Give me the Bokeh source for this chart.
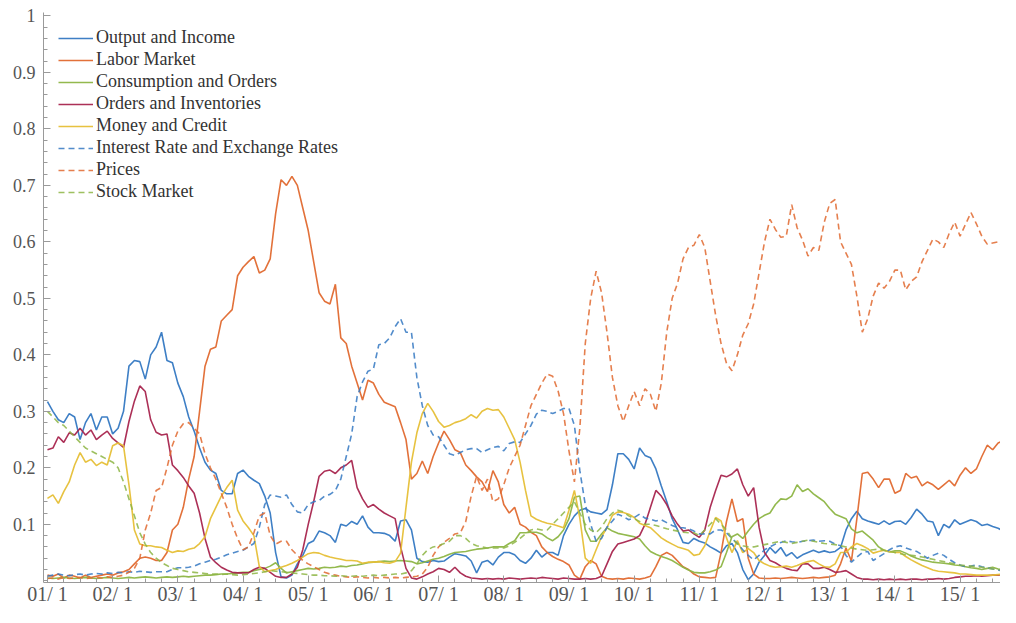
from bokeh.plotting import figure
from bokeh.models import FixedTicker, Legend, LegendItem, Range1d
from bokeh.embed import file_html
from bokeh.resources import INLINE

# ---------------- data (monthly, Jan 2001 .. Dec 2015) ----------------
n_months = 180
months = list(range(n_months))

year_ticks = list(range(15))
year_labels = ["01/ 1", "02/ 1", "03/ 1", "04/ 1", "05/ 1", "06/ 1", "07/ 1", "08/ 1",
               "09/ 1", "10/ 1", "11/ 1", "12/ 1", "13/ 1", "14/ 1", "15/ 1"]
y_ticks = [0.1, 0.2, 0.3, 0.4, 0.5, 0.6, 0.7, 0.8, 0.9, 1.0]
y_labels = ["0.1", "0.2", "0.3", "0.4", "0.5", "0.6", "0.7", "0.8", "0.9", "1"]

output_income = [
    0.317, 0.30, 0.285, 0.28, 0.296, 0.29, 0.25, 0.28, 0.296, 0.267,
    0.29, 0.29, 0.26, 0.27, 0.30, 0.38, 0.39, 0.388, 0.357, 0.40,
    0.414, 0.44, 0.39, 0.386, 0.35, 0.326, 0.29, 0.265, 0.235, 0.21,
    0.196, 0.19, 0.16, 0.154, 0.154, 0.19, 0.196, 0.185, 0.178, 0.172,
    0.15, 0.12, 0.05, 0.007, 0.005, 0.01, 0.03, 0.045, 0.066, 0.071,
    0.088, 0.085, 0.08, 0.068, 0.10, 0.097, 0.105, 0.10, 0.115, 0.095,
    0.085, 0.085, 0.084, 0.08, 0.07, 0.106, 0.108, 0.09, 0.04, 0.034,
    0.033, 0.036, 0.034, 0.035, 0.042, 0.048, 0.046, 0.044, 0.035, 0.014,
    0.033, 0.036, 0.028, 0.042, 0.05, 0.05, 0.046, 0.036, 0.031, 0.04,
    0.054, 0.042, 0.05, 0.05, 0.045, 0.08, 0.10, 0.115, 0.125, 0.128,
    0.122, 0.12, 0.118, 0.126, 0.17, 0.225, 0.225, 0.215, 0.198, 0.235,
    0.222, 0.218, 0.198, 0.168, 0.14, 0.11, 0.09, 0.068, 0.066, 0.075,
    0.07, 0.067, 0.06, 0.055, 0.049, 0.062, 0.066, 0.05, 0.02, 0.002,
    0.012, 0.033, 0.045, 0.059, 0.049, 0.059, 0.044, 0.05, 0.04, 0.046,
    0.05, 0.054, 0.05, 0.053, 0.05, 0.052, 0.059, 0.09, 0.11, 0.123,
    0.11, 0.106, 0.103, 0.10, 0.106, 0.10, 0.105, 0.106, 0.10, 0.112,
    0.127, 0.118, 0.106, 0.104, 0.08, 0.10, 0.094, 0.108, 0.10, 0.104,
    0.108, 0.105, 0.098, 0.10, 0.096, 0.093, 0.088, 0.08, 0.083, 0.08,
]

labor_market = [
    0.01, 0.008, 0.012, 0.005, 0.01, 0.008, 0.005, 0.01, 0.006, 0.008,
    0.01, 0.012, 0.01, 0.014, 0.016, 0.02, 0.03, 0.04, 0.042, 0.04,
    0.036, 0.036, 0.05, 0.09, 0.10, 0.13, 0.18, 0.22, 0.30, 0.38,
    0.41, 0.414, 0.46, 0.47, 0.48, 0.54, 0.555, 0.565, 0.574, 0.545,
    0.55, 0.57, 0.65, 0.71, 0.70, 0.716, 0.70, 0.66, 0.62, 0.565,
    0.51, 0.495, 0.49, 0.525, 0.43, 0.42, 0.38, 0.35, 0.32, 0.355,
    0.35, 0.33, 0.316, 0.312, 0.308, 0.28, 0.25, 0.18, 0.19, 0.212,
    0.19, 0.22, 0.244, 0.265, 0.25, 0.232, 0.227, 0.205, 0.195, 0.184,
    0.175, 0.158, 0.195, 0.175, 0.135, 0.12, 0.13, 0.10, 0.095, 0.086,
    0.08, 0.06, 0.05, 0.043, 0.038, 0.034, 0.028, 0.01, 0.003, 0.025,
    0.036, 0.03, 0.008, 0.004, 0.003, 0.004, 0.003, 0.005, 0.004, 0.003,
    0.005, 0.008, 0.025, 0.045, 0.05, 0.045, 0.035, 0.025, 0.02, 0.012,
    0.007, 0.006, 0.005, 0.006, 0.05, 0.105, 0.145, 0.105, 0.11, 0.04,
    0.012, 0.005, 0.004, 0.004, 0.005, 0.004, 0.005, 0.006, 0.005, 0.004,
    0.005, 0.006, 0.005, 0.006, 0.007, 0.01, 0.03, 0.058, 0.035, 0.11,
    0.19, 0.192, 0.18, 0.165, 0.18, 0.18, 0.155, 0.16, 0.19, 0.182,
    0.185, 0.168, 0.175, 0.17, 0.162, 0.17, 0.178, 0.168, 0.187, 0.20,
    0.19, 0.198, 0.22, 0.24, 0.232, 0.244, 0.248, 0.255, 0.29, 0.32,
]

consumption_orders = [
    0.005, 0.004, 0.005, 0.006, 0.005, 0.004, 0.005, 0.006, 0.005, 0.004,
    0.005, 0.006, 0.005, 0.004, 0.005, 0.006, 0.005, 0.006, 0.007, 0.006,
    0.005, 0.006, 0.007, 0.006, 0.007, 0.008, 0.007, 0.008, 0.009, 0.01,
    0.01, 0.011, 0.012, 0.012, 0.013, 0.014, 0.015, 0.015, 0.018, 0.02,
    0.022, 0.026, 0.032, 0.022, 0.014, 0.016, 0.018, 0.02, 0.022, 0.021,
    0.022, 0.024, 0.023, 0.024, 0.026, 0.025, 0.027, 0.028, 0.03, 0.032,
    0.033, 0.034, 0.035, 0.034, 0.035, 0.036, 0.035, 0.034, 0.03, 0.032,
    0.035, 0.038, 0.04, 0.043, 0.047, 0.05, 0.051, 0.052, 0.054, 0.056,
    0.057, 0.058, 0.06, 0.06, 0.06, 0.066, 0.071, 0.085, 0.085, 0.086,
    0.086, 0.083, 0.076, 0.071, 0.078, 0.09, 0.11, 0.148, 0.15, 0.09,
    0.07, 0.07, 0.083, 0.094, 0.088, 0.084, 0.082, 0.08, 0.078, 0.074,
    0.062, 0.052, 0.047, 0.043, 0.04, 0.036, 0.03, 0.024, 0.019, 0.015,
    0.014, 0.014, 0.016, 0.019, 0.025, 0.05, 0.078, 0.083, 0.075, 0.088,
    0.10, 0.11, 0.116, 0.12, 0.135, 0.145, 0.144, 0.15, 0.17, 0.158,
    0.163, 0.154, 0.147, 0.14, 0.128, 0.118, 0.114, 0.11, 0.092, 0.085,
    0.088, 0.08, 0.072, 0.06, 0.054, 0.051, 0.053, 0.053, 0.049, 0.044,
    0.04, 0.037, 0.035, 0.033, 0.032, 0.031, 0.03, 0.028, 0.027, 0.025,
    0.023, 0.022, 0.02, 0.022, 0.024, 0.021, 0.019, 0.022, 0.024, 0.023,
]

orders_inventories = [
    0.232, 0.235, 0.255, 0.245, 0.262, 0.258, 0.27, 0.258, 0.267, 0.25,
    0.258, 0.265, 0.252, 0.244, 0.236, 0.282, 0.318, 0.345, 0.335, 0.285,
    0.263, 0.258, 0.26, 0.205, 0.195, 0.183, 0.168, 0.155, 0.12, 0.075,
    0.042, 0.032, 0.024, 0.019, 0.015, 0.014, 0.014, 0.014, 0.02, 0.024,
    0.022, 0.015, 0.008, 0.006, 0.006, 0.012, 0.024, 0.055, 0.10, 0.14,
    0.185, 0.194, 0.196, 0.19, 0.20, 0.205, 0.213, 0.165, 0.145, 0.13,
    0.135, 0.127, 0.12, 0.115, 0.11, 0.06, 0.022, 0.005, 0.003, 0.007,
    0.012, 0.016, 0.022, 0.02, 0.015, 0.024, 0.014, 0.008, 0.005, 0.004,
    0.003, 0.004, 0.003, 0.004, 0.003, 0.005, 0.004, 0.003, 0.004, 0.005,
    0.004, 0.006, 0.005, 0.004, 0.003, 0.005, 0.004, 0.003, 0.003, 0.004,
    0.003, 0.004, 0.008, 0.03, 0.052, 0.065, 0.068, 0.071, 0.074, 0.08,
    0.10, 0.13, 0.16, 0.15, 0.135, 0.115, 0.10, 0.088, 0.09, 0.083,
    0.077, 0.09, 0.13, 0.16, 0.187, 0.184, 0.189, 0.198, 0.17, 0.15,
    0.165, 0.095, 0.05, 0.036, 0.032, 0.026, 0.022, 0.019, 0.018, 0.03,
    0.03, 0.022, 0.022, 0.024, 0.02, 0.015, 0.016, 0.018, 0.012, 0.006,
    0.003, 0.003, 0.002, 0.003, 0.002, 0.003, 0.002, 0.003, 0.002, 0.003,
    0.003, 0.002, 0.003, 0.003, 0.004, 0.003, 0.004, 0.006, 0.007, 0.008,
    0.008, 0.009, 0.008, 0.009, 0.01, 0.01, 0.011, 0.01, 0.012, 0.013,
]

money_credit = [
    0.146, 0.152, 0.137, 0.158, 0.175, 0.205, 0.227, 0.21, 0.215, 0.204,
    0.21, 0.205, 0.239, 0.244, 0.239, 0.17, 0.09, 0.065, 0.062, 0.062,
    0.06, 0.059, 0.054, 0.05, 0.053, 0.052, 0.056, 0.058, 0.066, 0.078,
    0.11, 0.13, 0.15, 0.165, 0.178, 0.125, 0.106, 0.094, 0.08, 0.025,
    0.016, 0.018, 0.02, 0.024, 0.027, 0.031, 0.036, 0.042, 0.048, 0.05,
    0.049, 0.045, 0.042, 0.04, 0.038, 0.036, 0.036, 0.035, 0.031, 0.033,
    0.033, 0.034, 0.032, 0.031, 0.034, 0.049, 0.13, 0.21, 0.262, 0.296,
    0.314, 0.30, 0.282, 0.272, 0.275, 0.28, 0.283, 0.287, 0.294, 0.288,
    0.30, 0.305, 0.302, 0.303, 0.29, 0.27, 0.25, 0.21, 0.16, 0.115,
    0.109, 0.105, 0.102, 0.10, 0.097, 0.094, 0.125, 0.16, 0.111, 0.04,
    0.031, 0.055, 0.078, 0.094, 0.116, 0.122, 0.121, 0.118, 0.112, 0.102,
    0.098, 0.094, 0.085, 0.076, 0.07, 0.065, 0.06, 0.057, 0.054, 0.045,
    0.047, 0.062, 0.088, 0.112, 0.106, 0.076, 0.05, 0.071, 0.05, 0.057,
    0.05, 0.036, 0.03, 0.026, 0.024, 0.025, 0.026, 0.024, 0.027, 0.031,
    0.034, 0.036, 0.03, 0.025, 0.024, 0.03, 0.05, 0.05, 0.06, 0.066,
    0.062, 0.057, 0.049, 0.052, 0.054, 0.052, 0.05, 0.05, 0.043, 0.037,
    0.032, 0.027, 0.023, 0.019, 0.017, 0.016, 0.015, 0.014, 0.012, 0.012,
    0.011, 0.01, 0.01, 0.01, 0.01, 0.011, 0.012, 0.013, 0.015, 0.018,
]

interest_exchange = [
    0.008, 0.01, 0.012, 0.01, 0.009, 0.011, 0.012, 0.01, 0.012, 0.013,
    0.012, 0.014, 0.013, 0.015, 0.014, 0.016, 0.015, 0.017, 0.016, 0.015,
    0.016, 0.016, 0.016, 0.02, 0.023, 0.023, 0.024, 0.026, 0.03, 0.033,
    0.036, 0.038, 0.042, 0.046, 0.049, 0.052, 0.054, 0.06, 0.066, 0.095,
    0.135, 0.152, 0.15, 0.148, 0.152, 0.135, 0.122, 0.12, 0.135, 0.14,
    0.142, 0.15, 0.153, 0.16, 0.18, 0.22, 0.26, 0.326, 0.352, 0.371,
    0.375, 0.418, 0.42, 0.43, 0.45, 0.464, 0.44, 0.44, 0.36, 0.31,
    0.275, 0.258, 0.255, 0.24, 0.225, 0.222, 0.227, 0.232, 0.234, 0.234,
    0.227, 0.232, 0.236, 0.238, 0.23, 0.243, 0.246, 0.245, 0.26, 0.275,
    0.295, 0.302, 0.30, 0.296, 0.30, 0.305, 0.305, 0.275, 0.195, 0.135,
    0.10, 0.07, 0.075, 0.095, 0.106, 0.118, 0.114, 0.108, 0.112, 0.118,
    0.111, 0.109, 0.106, 0.108, 0.103, 0.098, 0.094, 0.094, 0.092, 0.088,
    0.083, 0.083, 0.083, 0.09, 0.09, 0.085, 0.075, 0.066, 0.055, 0.045,
    0.037, 0.045, 0.055, 0.06, 0.065, 0.068, 0.071, 0.069, 0.068, 0.07,
    0.071, 0.072, 0.07, 0.071, 0.07, 0.065, 0.062, 0.045, 0.033, 0.042,
    0.05, 0.052, 0.036, 0.042, 0.048, 0.055, 0.06, 0.062, 0.058, 0.055,
    0.052, 0.046, 0.04, 0.045, 0.049, 0.045, 0.038, 0.032, 0.028, 0.025,
    0.026, 0.028, 0.025, 0.023, 0.021, 0.019, 0.017, 0.015, 0.014, 0.013,
]

prices = [
    0.004, 0.005, 0.003, 0.006, 0.004, 0.005, 0.006, 0.004, 0.005, 0.006,
    0.005, 0.007, 0.006, 0.008, 0.01, 0.015, 0.022, 0.04, 0.09, 0.12,
    0.16, 0.165, 0.2, 0.24, 0.265, 0.278, 0.28, 0.27, 0.26, 0.225,
    0.2, 0.18, 0.155, 0.13, 0.10, 0.075, 0.055, 0.06, 0.085, 0.115,
    0.12, 0.08, 0.065, 0.07, 0.07, 0.055, 0.045, 0.036, 0.03, 0.025,
    0.02, 0.015, 0.012, 0.01, 0.008, 0.007, 0.006, 0.007, 0.006, 0.005,
    0.006, 0.005, 0.006, 0.005, 0.006, 0.005, 0.006, 0.007, 0.008, 0.012,
    0.024, 0.045, 0.06, 0.068, 0.075, 0.083, 0.085, 0.105, 0.15, 0.185,
    0.16, 0.18, 0.14, 0.145, 0.17, 0.2, 0.22, 0.24, 0.275, 0.31,
    0.33, 0.35, 0.366, 0.362, 0.336, 0.296, 0.23, 0.175, 0.27, 0.42,
    0.5, 0.548, 0.51, 0.44, 0.36, 0.31, 0.282, 0.31, 0.335, 0.31,
    0.34, 0.33, 0.30, 0.35, 0.44, 0.50, 0.527, 0.57, 0.59, 0.594,
    0.613, 0.59, 0.53, 0.47, 0.42, 0.385, 0.372, 0.40, 0.435, 0.455,
    0.49, 0.545, 0.60, 0.64, 0.622, 0.608, 0.61, 0.666, 0.625, 0.603,
    0.575, 0.59, 0.585, 0.635, 0.668, 0.675, 0.60, 0.58, 0.56, 0.504,
    0.44, 0.464, 0.504, 0.527, 0.518, 0.53, 0.55, 0.55, 0.515, 0.53,
    0.538, 0.565, 0.585, 0.605, 0.60, 0.59, 0.615, 0.635, 0.61, 0.631,
    0.652, 0.632, 0.61, 0.596, 0.598, 0.60, 0.59, 0.575, 0.555, 0.54,
]

stock_market = [
    0.30, 0.29, 0.28, 0.275, 0.265, 0.255, 0.245, 0.235, 0.23, 0.225,
    0.22, 0.215, 0.21, 0.2, 0.175, 0.145, 0.115, 0.085, 0.065, 0.05,
    0.04, 0.032, 0.027, 0.022, 0.02, 0.018, 0.016, 0.015, 0.014, 0.013,
    0.012, 0.012, 0.011, 0.012, 0.011, 0.01, 0.011, 0.012, 0.013, 0.014,
    0.016, 0.018, 0.017, 0.016, 0.015, 0.014, 0.013, 0.012, 0.011, 0.01,
    0.01, 0.009, 0.009, 0.008, 0.009, 0.008, 0.008, 0.009, 0.008, 0.009,
    0.01, 0.009, 0.01, 0.011, 0.012, 0.012, 0.014, 0.018, 0.03, 0.045,
    0.055, 0.06, 0.062, 0.066, 0.07, 0.08, 0.08, 0.075, 0.066, 0.062,
    0.06, 0.058, 0.058, 0.058, 0.058, 0.062, 0.068, 0.075, 0.083, 0.09,
    0.092, 0.09, 0.09, 0.10, 0.11, 0.12, 0.13, 0.14, 0.12, 0.10,
    0.09, 0.085, 0.095, 0.11, 0.12, 0.125, 0.122, 0.115, 0.11, 0.105,
    0.10, 0.10, 0.098, 0.095, 0.092, 0.09, 0.088, 0.086, 0.085, 0.085,
    0.08, 0.09, 0.10, 0.11, 0.10, 0.09, 0.075, 0.065, 0.062, 0.06,
    0.06, 0.062, 0.064, 0.066, 0.068, 0.07, 0.068, 0.066, 0.068, 0.07,
    0.072, 0.07, 0.068, 0.066, 0.065, 0.064, 0.062, 0.06, 0.058, 0.056,
    0.055, 0.054, 0.055, 0.056, 0.054, 0.052, 0.05, 0.048, 0.046, 0.045,
    0.044, 0.042, 0.04, 0.038, 0.036, 0.034, 0.032, 0.03, 0.028, 0.027,
    0.026, 0.025, 0.024, 0.022, 0.021, 0.02, 0.019, 0.018, 0.018, 0.017,
]

series = [
    ("Output and Income", output_income, "#3478C2", "solid"),
    ("Labor Market", labor_market, "#E0692F", "solid"),
    ("Consumption and Orders", consumption_orders, "#8DB544", "solid"),
    ("Orders and Inventories", orders_inventories, "#A8254E", "solid"),
    ("Money and Credit", money_credit, "#E6BF36", "solid"),
    ("Interest Rate and Exchange Rates", interest_exchange, "#3478C2", "6 4"),
    ("Prices", prices, "#E0692F", "6 4"),
    ("Stock Market", stock_market, "#8DB544", "6 4"),
]

# time axis in years since January 2001
t = [m / 12.0 for m in months]

SERIF = "serif"

p = figure(width=1000, height=607, output_backend="svg", toolbar_location=None,
           x_range=Range1d(-0.061, 14.62), y_range=Range1d(-0.003, 1.006),
           min_border_left=43, min_border_right=0, min_border_top=12,
           min_border_bottom=0,
           background_fill_color="white", border_fill_color="white")
p.outline_line_color = None
p.grid.visible = False

items = []
for name, vals, color, dash in series:
    r = p.line(t, vals, line_color=color, line_width=1.6, line_dash=dash,
               line_alpha=0.95 if dash == "solid" else 0.85)
    items.append(LegendItem(label=name, renderers=[r]))

# x axis
p.xaxis.ticker = FixedTicker(ticks=year_ticks,
                             minor_ticks=[y + q / 4 for y in range(-1, 15) for q in range(1, 4)])
p.xaxis.major_label_overrides = {k: v for k, v in zip(year_ticks, year_labels)}
# y axis
p.yaxis.ticker = FixedTicker(ticks=y_ticks, minor_ticks=[i / 50 for i in range(0, 51)])
p.yaxis.major_label_overrides = {k: v for k, v in zip(y_ticks, y_labels)}

for ax in (p.xaxis, p.yaxis):
    ax.axis_line_color = "#9a9a9a"
    ax.major_tick_line_color = "#9a9a9a"
    ax.minor_tick_line_color = "#9a9a9a"
    ax.major_tick_in = 7
    ax.major_tick_out = 0
    ax.minor_tick_in = 4
    ax.minor_tick_out = 0
    ax.major_label_text_font = SERIF
    ax.major_label_text_color = "#555555"
p.yaxis.major_label_text_font_size = "18px"
p.yaxis.major_label_standoff = 8
p.xaxis.major_label_text_font_size = "20px"
p.xaxis.major_label_standoff = 0

legend = Legend(items=items, location="top_left",
                label_text_font=SERIF, label_text_font_size="18px",
                label_text_color="#333333",
                glyph_width=35, glyph_height=20, label_height=20,
                spacing=1, padding=8, margin=15, label_standoff=3,
                border_line_color=None, background_fill_alpha=0.0)
p.add_layout(legend)

open("out.html", "w").write(file_html(p, INLINE))
